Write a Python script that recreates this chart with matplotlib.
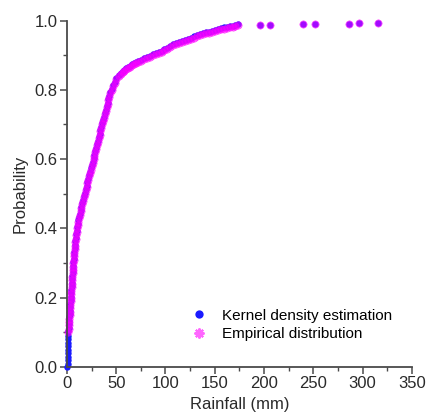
import matplotlib.pyplot as plt
from matplotlib.ticker import MultipleLocator

plt.rcParams['font.family'] = ['Liberation Sans', 'DejaVu Sans']

# Empirical distribution (rainfall in mm, cumulative probability)
rain_main = [1.5, 1.7, 2.0, 2.2, 2.5, 2.7, 3.0, 3.2, 3.5, 3.7,
             3.9, 4.2, 4.4, 4.7, 5.0, 5.2, 5.5, 5.7, 6.0, 6.3,
             6.6, 6.9, 7.2, 7.5, 7.9, 8.2, 8.6, 9.0, 9.5, 10.0,
             10.5, 11.0, 11.7, 12.4, 13.1, 13.9, 14.8, 15.6, 16.5, 17.4,
             18.4, 19.2, 20.0, 20.8, 21.6, 22.4, 23.3, 24.2, 25.1, 26.0,
             27.0, 27.9, 28.8, 29.7, 30.6, 31.5, 32.3, 33.2, 34.0, 34.9,
             35.8, 36.7, 37.6, 38.5, 39.4, 40.3, 41.2, 42.1, 43.0, 44.0,
             45.3, 46.7, 48.3, 50.2, 52.4, 54.5,
             56.5, 58, 60, 62, 64, 66, 68, 70, 72, 75,
             78, 81, 84, 87, 90, 93, 96, 99, 102, 105,
             108, 111, 114, 117, 120, 123, 126, 129, 132, 135,
             138, 141, 144, 147, 150, 153, 156, 159, 162, 165,
             168, 171, 174, 196, 206, 239, 252, 286, 296, 316]
prob_main = [0.10, 0.11, 0.12, 0.13, 0.14, 0.15, 0.16, 0.17, 0.18, 0.19,
             0.20, 0.21, 0.22, 0.23, 0.24, 0.25, 0.26, 0.27, 0.28, 0.29,
             0.30, 0.31, 0.32, 0.33, 0.34, 0.35, 0.36, 0.37, 0.38, 0.39,
             0.40, 0.41, 0.42, 0.43, 0.44, 0.45, 0.46, 0.47, 0.48, 0.49,
             0.50, 0.51, 0.52, 0.53, 0.54, 0.55, 0.56, 0.57, 0.58, 0.59,
             0.60, 0.61, 0.62, 0.63, 0.64, 0.65, 0.66, 0.67, 0.68, 0.69,
             0.70, 0.71, 0.72, 0.73, 0.74, 0.75, 0.76, 0.77, 0.78, 0.79,
             0.80, 0.81, 0.82, 0.83, 0.84, 0.846,
             0.851, 0.855, 0.859, 0.863, 0.867, 0.871, 0.874, 0.877, 0.880, 0.884,
             0.888, 0.892, 0.896, 0.900, 0.904, 0.907, 0.910, 0.914, 0.918, 0.923,
             0.928, 0.932, 0.935, 0.938, 0.942, 0.945, 0.948, 0.951, 0.955, 0.958,
             0.960, 0.963, 0.965, 0.968, 0.971, 0.973, 0.975, 0.977, 0.979, 0.980,
             0.982, 0.984, 0.986, 0.987, 0.988, 0.989, 0.990, 0.991, 0.992, 0.994]

# Kernel density estimate: extra points near zero rainfall
rain_kde_low = [0.6, 0.7, 0.8, 0.9, 1.0, 1.1, 1.2, 1.3, 1.4, 1.5]
prob_kde_low = [0.00, 0.01, 0.02, 0.03, 0.04, 0.05, 0.06, 0.07, 0.08, 0.09]

fig = plt.figure(figsize=(4.26, 4.19), dpi=100)
ax = fig.add_axes([0.157, 0.124, 0.81, 0.827])

# KDE sits a hair above the empirical curve, except in the sparse tail
kde_x = rain_kde_low + rain_main
kde_y = prob_kde_low + [p + 0.003 if r < 180 else p for r, p in zip(rain_main, prob_main)]
ax.plot(kde_x, kde_y, linestyle='none', marker='o', markersize=4.6,
        color='#1a1aff', markeredgewidth=0, label='Kernel density estimation', clip_on=False)
ax.plot(rain_main, prob_main, linestyle='none', marker=(8, 2, 0), markersize=5.5,
        color='#ff00ff', markeredgewidth=1.5, alpha=0.6, label='Empirical distribution', clip_on=False)

ax.set_xlim(0, 350)
ax.set_ylim(0, 1.0)
ax.xaxis.set_major_locator(MultipleLocator(50))
ax.xaxis.set_minor_locator(MultipleLocator(25))
ax.yaxis.set_major_locator(MultipleLocator(0.2))
ax.yaxis.set_minor_locator(MultipleLocator(0.1))
ax.set_yticks([0.0, 0.2, 0.4, 0.6, 0.8, 1.0])
ax.set_yticklabels(['0.0', '0.2', '0.4', '0.6', '0.8', '1.0'])

for side in ['top', 'right']:
    ax.spines[side].set_visible(False)
for side in ['left', 'bottom']:
    ax.spines[side].set_linewidth(1.3)
    ax.spines[side].set_color('#4a4a4a')

ax.tick_params(which='major', direction='out', length=5, width=1.1, color='#4a4a4a',
               labelsize=12, labelcolor='#2a2a2a', pad=1.5)
ax.tick_params(which='minor', direction='out', length=3, width=1.0, color='#4a4a4a')

ax.set_xlabel('Rainfall (mm)', fontsize=12, color='#2a2a2a', labelpad=4)
ax.set_ylabel('Probability', fontsize=12, color='#2a2a2a', labelpad=5)

ax.legend(loc='lower right', bbox_to_anchor=(0.96, 0.057), frameon=False, fontsize=11,
          handletextpad=0.5, labelspacing=0.3, markerscale=1.3, borderaxespad=0)

fig.savefig('out.png', dpi=100)
